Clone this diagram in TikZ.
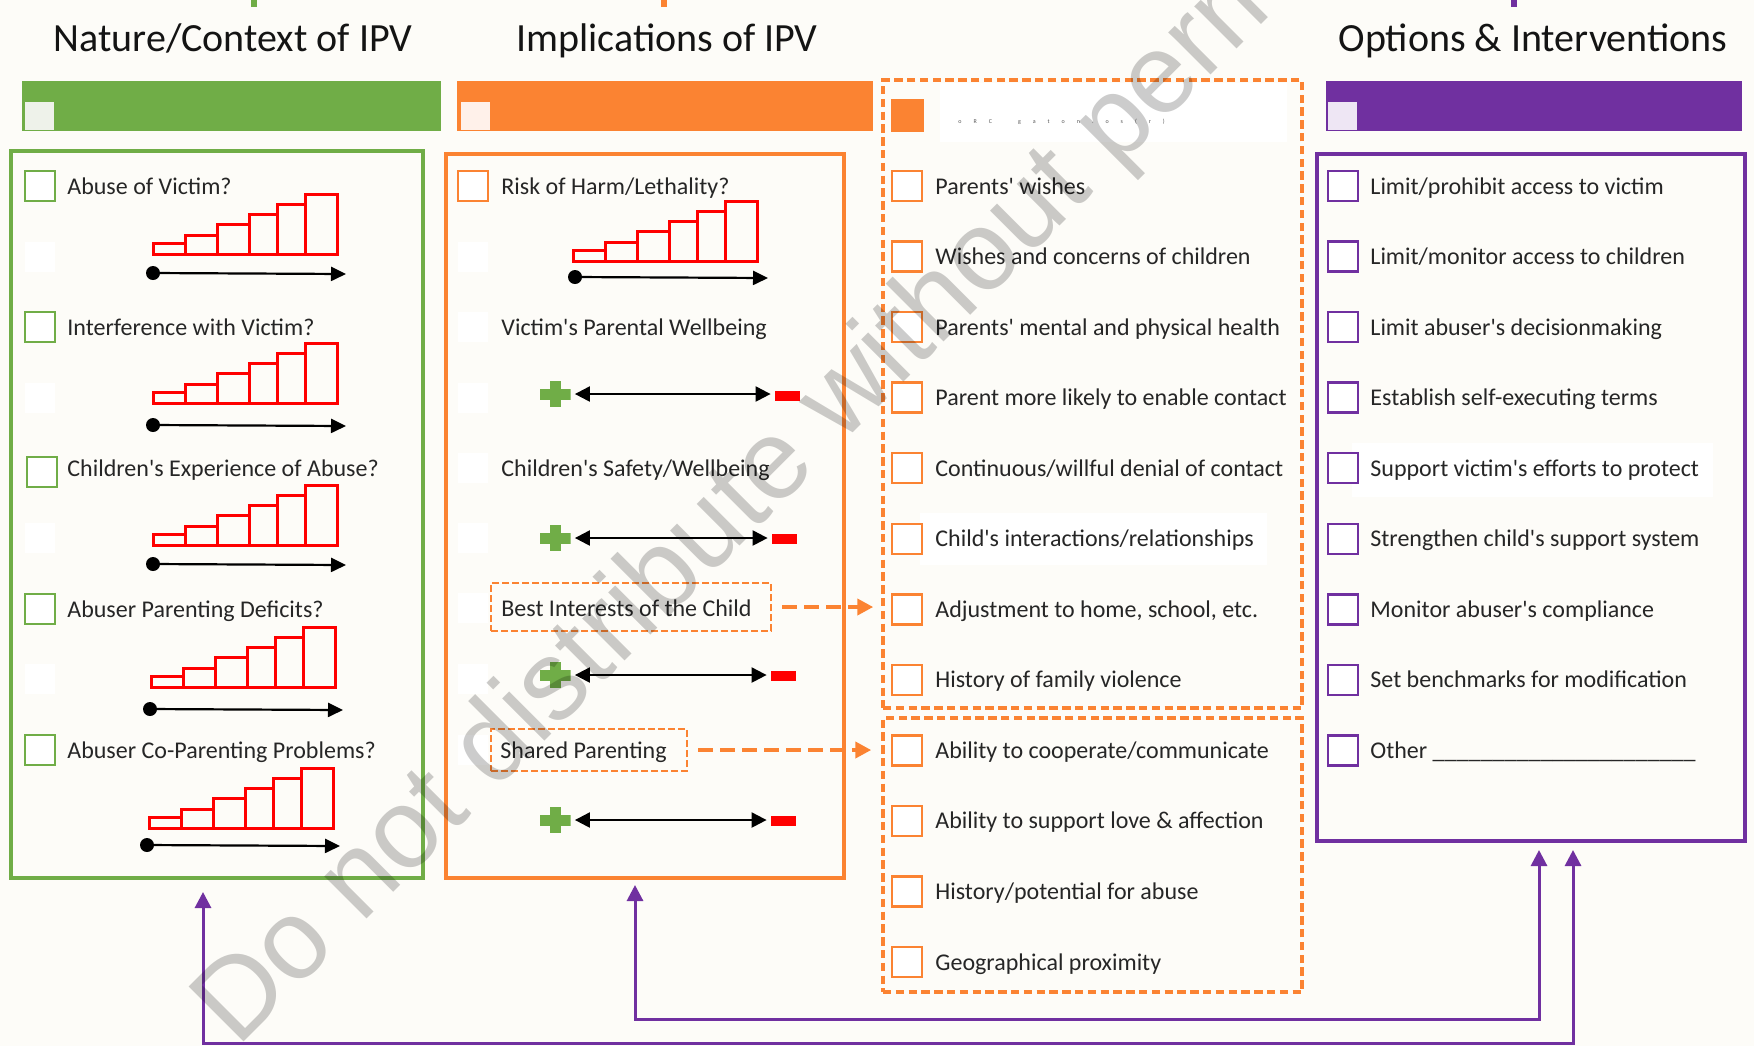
\documentclass[tikz,border=0pt]{standalone}
\usepackage{fontspec}
\setmainfont{Carlito}[Ligatures=TeXOff]
\newfontfamily\wmfont{Liberation Sans}
\usetikzlibrary{arrows.meta,fit}
\definecolor{bg}{HTML}{FDFCF8}
\definecolor{cgreen}{HTML}{70AD47}
\definecolor{corange}{HTML}{FB8332}
\definecolor{cpurple}{HTML}{7030A0}
\definecolor{cred}{HTML}{FF0000}
\definecolor{ctext}{HTML}{262626}
\definecolor{gpale}{HTML}{EEF2EA}
\definecolor{opale}{HTML}{FFF1EA}
\definecolor{ppale}{HTML}{EEE6F4}
\newcommand\stairs[2]{%
  \foreach \a/\b/\h in {0/32/11,32/64/19,64/96/30,96/124/40,124/152/50,152/184/60}
    \draw[stair] (#1+\a,#2) rectangle (#1+\b,#2-\h);}
\begin{document}
\begin{tikzpicture}[x=0.5pt,y=-0.5pt,
  title/.style={font=\fontsize{20}{24}\selectfont, text=black!92, anchor=base, inner sep=0pt},
  item/.style={font=\fontsize{12}{14}\selectfont, text=ctext, anchor=base west, inner sep=0pt},
  cb/.style={draw=#1, fill=white, line width=1.2pt, minimum size=15pt, inner sep=0pt},
  blank/.style={fill=white, minimum size=15pt, inner sep=0pt},
  barsq/.style={fill=#1, minimum width=14.5pt, minimum height=14pt, inner sep=0pt},
  bar/.style={fill=#1, draw=none, inner sep=0pt},
  frame/.style={draw=#1, line width=1.75pt, inner sep=0pt},
  dframe/.style={draw=corange, line width=1.75pt, dash pattern=on 4.2pt off 2.2pt, inner sep=0pt},
  sdbox/.style={draw=corange, line width=1.1pt, dash pattern=on 3.3pt off 1.7pt, inner sep=0pt},
  stair/.style={draw=cred, line width=1.5pt},
  dot/.style={circle, fill=black, minimum size=7pt, inner sep=0pt},
  axisline/.style={line width=1.1pt, -{Triangle[length=7.5pt,width=7pt]}},
  dbl/.style={line width=1.1pt, {Triangle[length=7.5pt,width=7.5pt]}-{Triangle[length=7.5pt,width=7.5pt]}},
  plusnode/.style={minimum width=15.5pt, minimum height=13pt, inner sep=0pt,
    path picture={
      \fill[cgreen] ([yshift=-2.75pt]path picture bounding box.west) rectangle ([yshift=2.75pt]path picture bounding box.east);
      \fill[cgreen] ([xshift=-2.75pt]path picture bounding box.south) rectangle ([xshift=2.75pt]path picture bounding box.north);}},
  minusnode/.style={fill=cred, minimum width=12.5pt, minimum height=5pt, inner sep=0pt},
  odarrow/.style={draw=corange, line width=2pt, dash pattern=on 7.5pt off 3.5pt, -{Triangle[length=8pt,width=8pt]}},
  parrow/.style={draw=cpurple, line width=1.5pt, {Triangle[length=8pt,width=8pt]}-{Triangle[length=8pt,width=8pt]}}
]
\useasboundingbox[fill=bg] (0,0) rectangle (1754,1046);

% small marks at top edge
\fill[cgreen] (251,0) rectangle (257,7);
\fill[corange] (661,0) rectangle (667,7);
\fill[cpurple] (1511,0) rectangle (1517,7);

% titles
\node[title] (t1) at (233,51) {Nature/Context of IPV};
\node[title] (t2) at (667,51) {Implications of IPV};
\node[title] (t3) at (1533,51) {Options \& Interventions};

% header bars
\node[bar=cgreen, fit={(22,81) (441,131)}] (gbar) {};
\node[barsq=gpale] (gbarsq) at (39.5,116) {};
\node[bar=corange, fit={(457,81) (873,131)}] (obar) {};
\node[barsq=opale] (obarsq) at (475,116) {};
\node[bar=cpurple, fit={(1326,81) (1742,131)}] (pbar) {};
\node[barsq=ppale] (pbarsq) at (1342,116) {};

% frames
\node[frame=cgreen, fit={(11,151) (423,878)}] (gbox) {};
\node[frame=corange, fit={(446,154) (844,878)}] (obox) {};
\node[dframe, fit={(883,80) (1302,708)}] (dbox1) {};
\node[dframe, fit={(883,718) (1302,992)}] (dbox2) {};
\node[frame=cpurple, fit={(1317,154) (1745,841)}] (pbox) {};

% inside top of dashed box
\node[fill=corange, minimum size=16.5pt, inner sep=0pt] (dsq) at (907,115) {};
\node[fill=white, fit={(940,83) (1287,142)}, inner sep=0pt] (wrect) {};
\node[font=\fontsize{3}{3}\selectfont, text=black!65, anchor=west, inner sep=0pt] (tiny) at (958,122)
  {o\hspace{6pt}R\hspace{6pt}C\hspace{13pt}g\hspace{6pt}a\hspace{6pt}t\hspace{6pt}o\hspace{6pt}n\hspace{6pt}.\hspace{6pt}o\hspace{6pt}s\hspace{6pt}(\hspace{6pt}r\hspace{6pt})};

% faint white text backgrounds
\node[fill=white, fit={(920,513) (1267,565)}, inner sep=0pt] (wb1) {};
\node[fill=white, fit={(1352,443) (1713,497)}, inner sep=0pt] (wb2) {};

% ---------- green column ----------
\foreach \y [count=\i] in {257,398,538,679} \node[blank] (gbl\i) at (40,\y) {};
\node[cb=cgreen] (gc1) at (40,186) {};
\node[item] (gt1) at (67,194) {Abuse of Victim?};
\node[cb=cgreen] (gc2) at (40,327) {};
\node[item] (gt2) at (67,335) {Interference with Victim?};
\node[cb=cgreen] (gc3) at (42,472) {};
\node[item] (gt3) at (67,476) {Children's Experience of Abuse?};
\node[cb=cgreen] (gc4) at (40,609) {};
\node[item] (gt4) at (67,617) {Abuser Parenting Deficits?};
\node[cb=cgreen] (gc5) at (40,750) {};
\node[item] (gt5) at (67,758) {Abuser Co-Parenting Problems?};

\stairs{153}{254}
\stairs{153}{403}
\stairs{153}{545}
\stairs{151}{687}
\stairs{149}{828}

\node[dot] (ga1) at (153,273) {}; \coordinate (gb1) at (346,274);
\node[dot] (ga2) at (153,425) {}; \coordinate (gb2) at (346,426);
\node[dot] (ga3) at (153,564) {}; \coordinate (gb3) at (346,565);
\node[dot] (ga4) at (150,709) {}; \coordinate (gb4) at (343,710);
\node[dot] (ga5) at (147,845) {}; \coordinate (gb5) at (340,846);
\foreach \i in {1,...,5} \draw[axisline] (ga\i.center) -- (gb\i);

% ---------- orange column ----------
\foreach \y [count=\i] in {257,327,398,468,538,608,679,750} \node[blank] (obl\i) at (473,\y) {};
\node[cb=corange] (oc1) at (473,186) {};
\node[item] (ot1) at (501,194) {Risk of Harm/Lethality?};
\stairs{573}{261}
\node[dot] (oa1) at (575,277) {}; \coordinate (ob1) at (768,278);
\draw[axisline] (oa1.center) -- (ob1);

\node[item] (ot2) at (501,335) {Victim's Parental Wellbeing};
\node[item] (ot3) at (501,476) {Children's Safety/Wellbeing};
\node[sdbox, fit={(491,583) (771,631)}] (best) {};
\node[item] (ot4) at (501,616) {Best Interests of the Child};
\node[sdbox, fit={(491,729) (687,771)}] (shared) {};
\node[item] (ot5) at (500,758) {Shared Parenting};

\node[plusnode] (pl1) at (555,394) {}; \node[minusnode] (mi1) at (787.5,396) {};
\node[plusnode] (pl2) at (555,538) {}; \node[minusnode] (mi2) at (784.5,539) {};
\node[plusnode] (pl3) at (555,675) {}; \node[minusnode] (mi3) at (783.5,676) {};
\node[plusnode] (pl4) at (555,820) {}; \node[minusnode] (mi4) at (783.5,821) {};
\foreach \i in {1,...,4} \draw[dbl] ([xshift=2pt]pl\i.east) -- ([xshift=-2pt]mi\i.west |- pl\i.east);

% ---------- dashed column ----------
\foreach \k/\t in {0/{Parents' wishes},1/{Wishes and concerns of children},2/{Parents' mental and physical health},3/{Parent more likely to enable contact},4/{Continuous/willful denial of contact},5/{Child's interactions/relationships},6/{Adjustment to home, school, etc.},7/{History of family violence},8/{Ability to cooperate/communicate},9/{Ability to support love \& affection},10/{History/potential for abuse},11/{Geographical proximity}}{
  \node[cb=corange] (dc\k) at (907,186+70.55*\k) {};
  \node[item] (dt\k) at (935,194+70.55*\k) {\t};
}

% ---------- purple column ----------
\foreach \k/\t in {0/{Limit/prohibit access to victim},1/{Limit/monitor access to children},2/{Limit abuser's decisionmaking},3/{Establish self-executing terms},4/{Support victim's efforts to protect},5/{Strengthen child's support system},6/{Monitor abuser's compliance},7/{Set benchmarks for modification},8/{Other \_\_\_\_\_\_\_\_\_\_\_\_\_\_\_\_\_\_\_\_\_\_}}{
  \node[cb=cpurple] (pc\k) at (1343,186+70.55*\k) {};
  \node[item] (pt\k) at (1370,194+70.55*\k) {\t};
}

% ---------- connectors ----------
\draw[odarrow] ([xshift=5pt]best.east) -- ([xshift=-4pt]best.east -| dbox1.west);
\draw[odarrow] ([xshift=5pt]shared.east) -- ([xshift=-5pt]shared.east -| dbox2.west);

\coordinate (gA) at (203,892);
\coordinate (oA) at (635,885);
\coordinate (pA) at (1573,850);
\coordinate (pB) at (1539,850);
\coordinate (low1) at (0,1019);
\coordinate (low2) at (0,1043);
\draw[parrow] (oA) -- (oA |- low1) -- (pB |- low1) -- (pB);
\draw[parrow] (gA) -- (gA |- low2) -- (pA |- low2) -- (pA);

% ---------- watermark ----------
\begin{scope}
\clip (0,0) rectangle (1754,1046);
\node[anchor=base west, rotate=45, inner sep=0pt, font=\wmfont\fontsize{56.5}{60}\selectfont,
  text=black, text opacity=0.2] (wm) at (237,1049) {Do not distribute without permission};
\end{scope}
\end{tikzpicture}
\end{document}
